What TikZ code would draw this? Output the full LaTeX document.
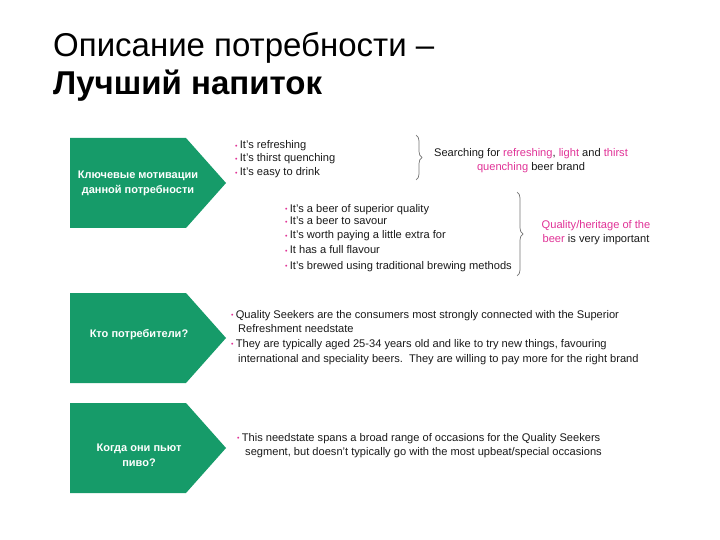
\documentclass[tikz,border=0pt]{standalone}
\usepackage{fontspec}
\setmainfont{Liberation Sans}
\usetikzlibrary{decorations.pathreplacing}
\definecolor{boxgreen}{RGB}{22,155,105}
\definecolor{hpink}{RGB}{224,50,150}
\definecolor{txt}{RGB}{25,25,25}
\newcommand{\bl}{{\color{hpink}\fontsize{7}{7}\selectfont\raisebox{0.6pt}{•}}\hspace{2.2pt}}
\newcommand{\pk}[1]{\textcolor{hpink}{#1}}
\tikzset{
  greenbox/.style={fill=boxgreen, draw=none},
  boxlabel/.style={text=white, font=\fontsize{11}{15}\selectfont\bfseries, align=center, inner sep=0pt},
  line/.style={anchor=base west, inner sep=0pt, text=txt, font=\fontsize{11.1}{13}\selectfont},
  cline/.style={anchor=base, inner sep=0pt, text=txt, font=\fontsize{11.1}{13}\selectfont},
  bracket/.style={draw=black!55, line width=0.7pt, decorate, decoration={brace, amplitude=6pt}},
}
\begin{document}
\begin{tikzpicture}[x=1pt,y=-1pt]
\useasboundingbox (0,0) rectangle (720,540);
% title
\node[anchor=base west, inner sep=0pt, font=\fontsize{33}{38}\selectfont] (t1) at (53,57) {Описание потребности –};
\node[anchor=base west, inner sep=0pt, font=\fontsize{33}{38}\selectfont\bfseries] (t2) at (53,95) {Лучший напиток};

% green pentagons
\fill[greenbox] (70,138) -- (186,138) -- (226,183) -- (186,228) -- (70,228) -- cycle;
\fill[greenbox] (70,293) -- (186,293) -- (226,338) -- (186,383) -- (70,383) -- cycle;
\fill[greenbox] (70,403) -- (186,403) -- (226,448) -- (186,493) -- (70,493) -- cycle;
\node[boxlabel] (b1) at (138,183) {Ключевые мотивации\\данной потребности};
\node[boxlabel] (b2) at (139,335) {Кто потребители?};
\node[boxlabel] (b3) at (139,455) {Когда они пьют\\пиво?};

% group 1
\node[line] (g1a) at (235,149) {\bl It’s refreshing};
\node[line] (g1b) at (235,162) {\bl It’s thirst quenching};
\node[line] (g1c) at (235,176) {\bl It’s easy to drink};
\coordinate (br1a) at (416,135);
\coordinate (br1b) at (416,180);
\draw[bracket] (br1a) -- (br1b);
\node[cline] (s1a) at (531,157) {Searching for \pk{refreshing}, \pk{light} and \pk{thirst}};
\node[cline] (s1b) at (531,171) {\pk{quenching} beer brand};

% group 2
\node[line] (g2a) at (285,212) {\bl It’s a beer of superior quality};
\node[line] (g2b) at (285,225) {\bl It’s a beer to savour};
\node[line] (g2c) at (285,239) {\bl It’s worth paying a little extra for};
\node[line] (g2d) at (285,254) {\bl It has a full flavour};
\node[line] (g2e) at (285,269) {\bl It’s brewed using traditional brewing methods};
\coordinate (br2a) at (517,192);
\coordinate (br2b) at (517,276);
\draw[bracket] (br2a) -- (br2b);
\node[cline] (s2a) at (596,229) {\pk{Quality/heritage of the}};
\node[cline] (s2b) at (596,243) {\pk{beer} is very important};

% section 2
\node[line] (q1) at (231,318) {\bl Quality Seekers are the consumers most strongly connected with the Superior};
\node[line] (q2) at (238,332) {Refreshment needstate};
\node[line] (q3) at (231,347) {\bl They are typically aged 25-34 years old and like to try new things, favouring};
\node[line] (q4) at (238,362) {international and speciality beers.\ \ They are willing to pay more for the right brand};

% section 3
\node[line] (w1) at (237,441) {\bl This needstate spans a broad range of occasions for the Quality Seekers};
\node[line] (w2) at (245,455) {segment, but doesn’t typically go with the most upbeat/special occasions};
\end{tikzpicture}
\end{document}
